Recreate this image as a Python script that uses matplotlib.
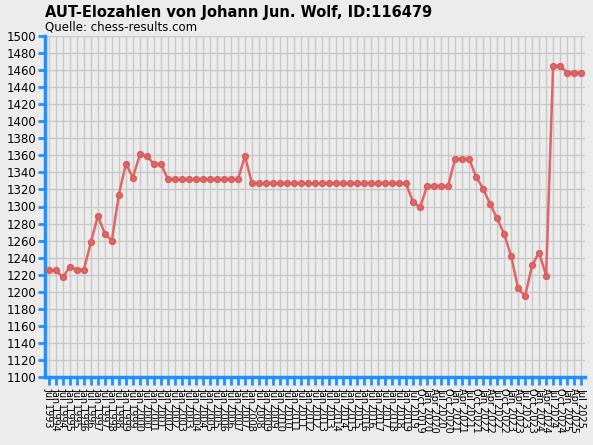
import numpy as np
import matplotlib.pyplot as plt

# rating lists: half-yearly up to Jul 2019, quarterly afterwards
labels = []
labels.append('Jul 1993')
for yr in range(1994, 2020):
    labels.append('Jan %d' % yr)
    labels.append('Jul %d' % yr)
labels.append('Oct 2019')
for yr in range(2020, 2026):
    for m in ['Jan', 'Apr', 'Jul', 'Oct']:
        if yr == 2025 and m == 'Oct':
            continue
        labels.append('%s %d' % (m, yr))

elo = [1225, 1225, 1217, 1229, 1226, 1226, 1258, 1289, 1268, 1260,
       1314, 1350, 1334, 1361, 1359, 1350, 1350,
       1332, 1332, 1332, 1332, 1332, 1332, 1332, 1332, 1332, 1332, 1332,
       1359,
       1327, 1327, 1327, 1327, 1327, 1327, 1327, 1327, 1327, 1327, 1327,
       1327, 1327, 1327, 1327, 1327, 1327, 1327, 1327, 1327, 1327, 1327,
       1327,
       1305, 1299, 1324, 1324, 1324, 1324, 1356, 1356, 1356, 1335, 1321,
       1303, 1286, 1268, 1242, 1204, 1195, 1231, 1246, 1219,
       1465, 1465, 1457, 1457, 1457]

bg = '#ececec'
blue = '#1e90ff'
x = np.arange(len(elo))

fig = plt.figure(figsize=(5.93, 4.45), dpi=100, facecolor=bg)
ax = fig.add_axes([45/593, 1 - 377/445, 540/593, 341/445], facecolor=bg)

ax.plot(x, elo, color='#e06666', lw=1.8, marker='o', ms=4.2, mew=1,
        mfc='#e06666', mec='#d85a5a', zorder=3)

ax.set_ylim(1100, 1500)
ax.set_yticks(np.arange(1100, 1501, 20))
ax.set_xlim(-0.55, len(elo) - 0.45)
ax.set_xticks(x)
ax.set_xticklabels(labels, rotation=-90, fontsize=7, va='top', ha='center')
ax.tick_params(axis='y', labelsize=8.5, color=blue, width=2, length=5, pad=1)
ax.tick_params(axis='x', color=blue, width=2, length=6, pad=2)

ax.grid(True, color='#c8c8c8', lw=1)
ax.set_axisbelow(True)
for s in ['top', 'right']:
    ax.spines[s].set_visible(False)
for s in ['left', 'bottom']:
    ax.spines[s].set_color(blue)
    ax.spines[s].set_linewidth(2.5)

fig.text(45/593, 1 - 12/445, 'AUT-Elozahlen von Johann Jun. Wolf, ID:116479',
         fontsize=10.5, fontweight='bold', va='center', ha='left')
fig.text(45/593, 1 - 27/445, 'Quelle: chess-results.com',
         fontsize=8.5, va='center', ha='left')

fig.savefig('out.png', dpi=100, facecolor=bg)
